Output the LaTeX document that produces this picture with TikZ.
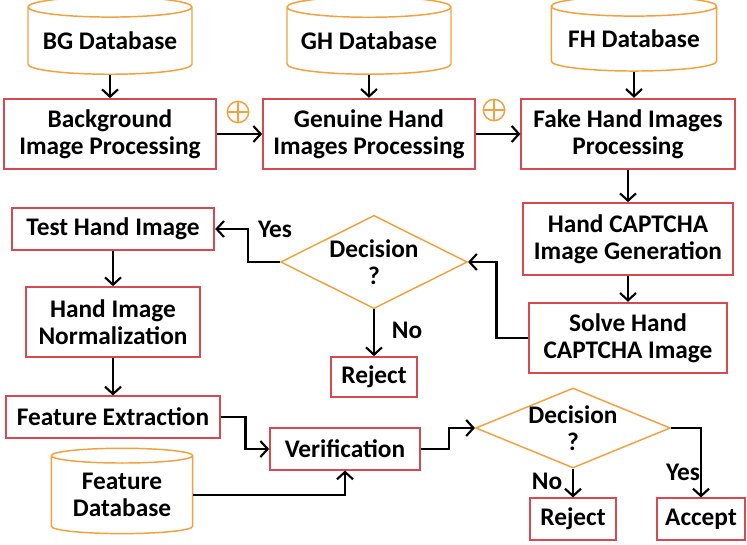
\documentclass[tikz,border=0pt]{standalone}
\usepackage{fontspec}
\setmainfont{Carlito}
\usetikzlibrary{shapes.geometric,arrows.meta}

\definecolor{boxred}{RGB}{214,72,82}
\definecolor{dborange}{RGB}{243,160,62}

\tikzset{
  every node/.style={font=\fontsize{19}{20}\selectfont\bfseries, align=center},
  procbox/.style={draw=boxred, line width=1.3pt, rectangle, inner sep=0pt},
  dbase/.style={draw=dborange, line width=1.1pt, cylinder, shape border rotate=90,
    aspect=0.15, inner sep=0pt},
  decide/.style={draw=dborange, line width=1.1pt, diamond, inner sep=0pt},
  flow/.style={line width=1.6pt, -{Straight Barb[length=5.5pt,width=12pt,line width=1.6pt]}},
  plusop/.style={draw=dborange, line width=1.1pt, circle, minimum size=16pt, inner sep=0pt,
    path picture={\draw[dborange, line width=1.1pt]
      (path picture bounding box.north) -- (path picture bounding box.south)
      (path picture bounding box.west) -- (path picture bounding box.east);}},
  tag/.style={inner sep=0pt}
}

\begin{document}
\begin{tikzpicture}[x=0.75pt,y=-0.75pt]

\useasboundingbox (0,0) rectangle (747,545);

% Databases
\node[dbase, minimum width=123pt, minimum height=58pt] (bgdb) at (110,41) {BG Database};
\node[dbase, minimum width=123pt, minimum height=58pt] (ghdb) at (369,41) {GH Database};
\node[dbase, minimum width=124pt, minimum height=56pt] (fhdb) at (634,39) {FH Database};

% Top row of processing
\node[procbox, minimum width=159pt, minimum height=52.5pt] (bgproc) at (110,134) {Background\\Image Processing};
\node[procbox, minimum width=159pt, minimum height=53pt] (ghproc) at (369,134) {Genuine Hand\\Images Processing};
\node[procbox, minimum width=160pt, minimum height=53pt] (fhproc) at (628,134) {Fake Hand Images\\Processing};
\node[plusop] (plusa) at (238,112) {};
\node[plusop] (plusb) at (494,110) {};

% CAPTCHA part
\node[procbox, minimum width=158pt, minimum height=54pt] (captcha) at (628,239) {Hand CAPTCHA\\Image Generation};
\node[procbox, minimum width=148pt, minimum height=53pt] (solve) at (628,338) {Solve Hand\\CAPTCHA Image};
\node[decide, minimum width=140pt, minimum height=70pt,
  label={[align=center]center:Decision\\?}] (decone) at (374,262) {};
\node[procbox, minimum width=65pt, minimum height=30pt] (rejone) at (374,377) {Reject};

% Hand image part
\node[procbox, minimum width=152pt, minimum height=31pt] (testimg) at (113,229) {Test Hand Image};
\node[procbox, minimum width=130pt, minimum height=52.5pt] (norm) at (113,322) {Hand Image\\Normalization};
\node[procbox, minimum width=160pt, minimum height=31pt] (featex) at (113,417) {Feature Extraction};
\node[procbox, minimum width=112.5pt, minimum height=31pt] (verif) at (345,449) {Verification};
\node[dbase, minimum width=106pt, minimum height=64pt] (featdb) at (122,495) {Feature\\Database};
\node[decide, minimum width=146pt, minimum height=60pt,
  label={[align=center]center:Decision\\?}] (dectwo) at (573,428) {};
\node[procbox, minimum width=64pt, minimum height=31pt] (rejtwo) at (573,519) {Reject};
\node[procbox, minimum width=66pt, minimum height=31pt] (accept) at (701,519) {Accept};

% Connectors
\draw[flow] (bgdb) -- (bgproc);
\draw[flow] (ghdb) -- (ghproc);
\draw[flow] (fhdb.south) -- (fhdb.south |- fhproc.north);
\draw[flow] (bgproc) -- (ghproc);
\draw[flow] (ghproc) -- (fhproc);
\draw[flow] (fhproc) -- (captcha);
\draw[flow] (captcha) -- (solve);
\draw[flow] (solve.west) -- ++(-32,0) |- (decone.east);
\draw[flow] (decone.west) -- ++(-32,0) |- (testimg.east);
\draw[flow] (decone.south) -- (rejone.north);
\draw[flow] (testimg) -- (norm);
\draw[flow] (norm) -- (featex);
\draw[flow] (featex.east) -- ++(25,0) |- (verif.west);
\draw[flow] (featdb.east) -| (verif.south);
\draw[flow] (verif.east) -- ++(28,0) |- (dectwo.west);
\draw[flow] (dectwo.south) -- (rejtwo.north);
\draw[flow] (dectwo.east) -| (accept.north);

\node[tag] at (275,229) {Yes};
\node[tag] at (407,330) {No};
\node[tag] at (547,481) {No};
\node[tag] at (683,472) {Yes};

\end{tikzpicture}
\end{document}
